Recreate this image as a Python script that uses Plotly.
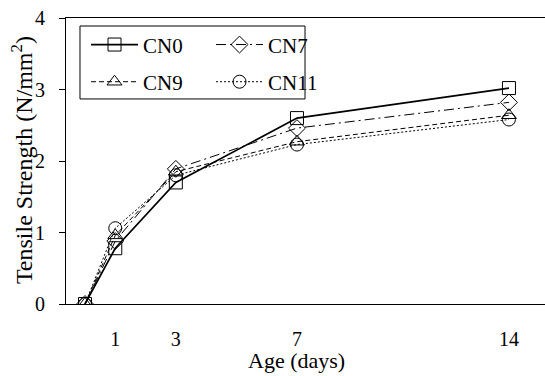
import plotly.graph_objects as go

days = [0, 1, 3, 7, 14]
series_names = ["CN0", "CN7", "CN9", "CN11"]
cn0 = [0, 0.78, 1.70, 2.60, 3.02]
cn7 = [0, 0.88, 1.89, 2.46, 2.82]
cn9 = [0, 0.96, 1.85, 2.27, 2.64]
cn11 = [0, 1.06, 1.80, 2.23, 2.58]
x_ticks = [1, 3, 7, 14]
y_ticks = [0, 1, 2, 3, 4]
x_title = "Age (days)"
y_title = "Tensile Strength (N/mm<sup>2</sup>)"

values = [cn0, cn7, cn9, cn11]
symbols = ["square-open", "diamond-open", "triangle-up-open", "circle-open"]
dashes = ["solid", "10px,4px,2px,4px", "5px,3px", "2px,2px"]
widths = [1.7, 1, 1, 1]
legend_ids = ["legend", "legend", "legend2", "legend2"]

FONT = "Liberation Serif, Times New Roman, serif"

fig = go.Figure()
for name, vals, sym, dash, w, lg in zip(series_names, values, symbols, dashes, widths, legend_ids):
    fig.add_trace(go.Scatter(
        x=days, y=vals, name=name, mode="lines+markers", legend=lg,
        line=dict(color="black", width=w, dash=dash),
        marker=dict(symbol=sym, size=13, color="black", line=dict(width=1, color="black")),
    ))

fig.add_annotation(x=0.482, y=-0.199, xref="paper", yref="paper", xanchor="center", yanchor="middle",
                   text=x_title, showarrow=False, font=dict(family="Liberation Serif", size=22))
fig.add_annotation(x=-0.0919, y=0.503, xref="paper", yref="paper", xanchor="center", yanchor="middle",
                   text=y_title, showarrow=False, textangle=-90,
                   font=dict(family="Liberation Serif", size=24))

leg_common = dict(
    xanchor="left", yanchor="middle",
    orientation="h", entrywidth=63, entrywidthmode="pixels",
    borderwidth=0, bgcolor="rgba(0,0,0,0)",
    font=dict(size=21),
    itemwidth=47, tracegroupgap=0,
)

fig.update_layout(
    width=545, height=376,
    margin=dict(l=66, r=0, t=18, b=72),
    plot_bgcolor="white", paper_bgcolor="white",
    font=dict(family=FONT, size=20, color="black"),
    showlegend=True,
    legend=dict(x=0.0418, y=0.906, **leg_common),
    legend2=dict(x=0.0418, y=0.776, **leg_common),
    shapes=[dict(type="rect", xref="paper", yref="paper",
                 x0=0.0292, x1=0.499, y0=0.717, y1=0.972,
                 line=dict(color="black", width=1), fillcolor="rgba(0,0,0,0)", layer="above")],
    xaxis=dict(
        range=[-0.627, 15.19], tickmode="array", tickvals=x_ticks,
        ticktext=[str(v) for v in x_ticks], ticks="", showgrid=False, zeroline=False,
        showline=True, linecolor="black", linewidth=1, mirror=True,
        ticklabelstandoff=17,
    ),
    yaxis=dict(
        range=[0, 4], tickmode="array", tickvals=y_ticks, ticks="outside",
        ticklen=6, tickcolor="black", showgrid=False, zeroline=False,
        showline=True, linecolor="black", linewidth=1,
        ticklabelstandoff=10,
    ),
)

fig.write_html("out.html")
